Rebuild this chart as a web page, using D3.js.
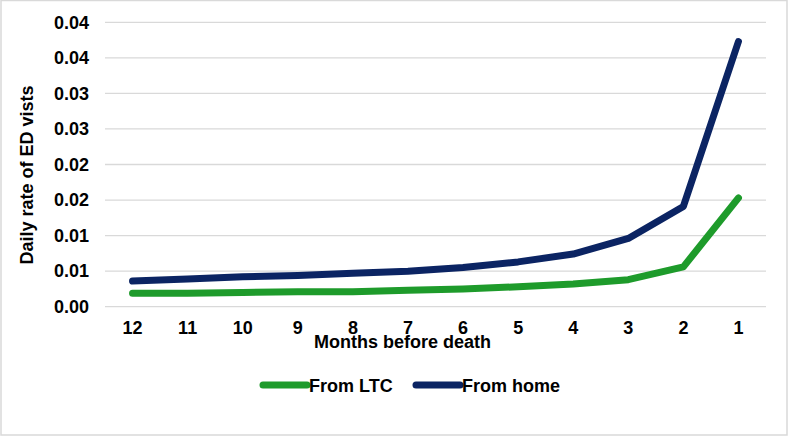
<!DOCTYPE html>
<html>
<head>
<meta charset="utf-8">
<script src="https://cdn.jsdelivr.net/npm/d3@7"></script>
<style>
  html, body { margin: 0; padding: 0; background: #fff; }
  svg { display: block; }
  text { font-family: "Liberation Sans", Arial, sans-serif; font-weight: bold; fill: #000; }
</style>
</head>
<body>
<svg id="chart" width="789" height="437"></svg>
<script>
const months = ["12", "11", "10", "9", "8", "7", "6", "5", "4", "3", "2", "1"];
const fromLTC = [0.0019, 0.0019, 0.0020, 0.0021, 0.0021, 0.0023, 0.0025, 0.0028, 0.0032, 0.0038, 0.0056, 0.0153];
const fromHome = [0.0036, 0.0039, 0.0042, 0.0044, 0.0047, 0.0050, 0.0055, 0.0063, 0.0074, 0.0096, 0.0141, 0.0373];
const yTickValues = [0, 0.005, 0.01, 0.015, 0.02, 0.025, 0.03, 0.035, 0.04];
const yTickLabels = ["0.00", "0.01", "0.01", "0.02", "0.02", "0.03", "0.03", "0.04", "0.04"];
const seriesNames = ["From LTC", "From home"];
const seriesColors = ["#1e9b2b", "#0b2463"];

(function () {
const svg = d3.select("#chart");
const W = 789, H = 437;

// outer border
svg.append("rect").attr("x", 1).attr("y", 0.5).attr("width", W - 3).attr("height", H - 2.5)
  .attr("fill", "#fff").attr("stroke", "#d9d9d9").attr("stroke-width", 1.5);

const pLeft = 105, pRight = 766, pTop = 22.3, pBottom = 306.7;

const x = d3.scaleBand().domain(months).range([pLeft, pRight]);
const y = d3.scaleLinear().domain([0, 0.04]).range([pBottom, pTop]);

// gridlines
svg.append("g").selectAll("line").data(yTickValues).join("line")
  .attr("x1", pLeft).attr("x2", pRight)
  .attr("y1", d => y(d)).attr("y2", d => y(d))
  .attr("stroke", "#d9d9d9").attr("stroke-width", 1.3);

// y axis labels
const yAxis = d3.axisLeft(y).tickValues(yTickValues)
  .tickFormat((d, i) => yTickLabels[i]).tickSize(0).tickPadding(0);
const gy = svg.append("g").attr("transform", `translate(${pLeft - 16},0)`).call(yAxis);
gy.select(".domain").remove();
gy.selectAll("text").attr("font-size", 18).attr("font-family", "Liberation Sans, Arial, sans-serif")
  .attr("font-weight", "bold").attr("fill", "#000");

// x axis labels
const xAxis = d3.axisBottom(x).tickSize(0).tickPadding(0);
const gx = svg.append("g").attr("transform", `translate(0,${pBottom + 15})`).call(xAxis);
gx.select(".domain").remove();
gx.selectAll("text").attr("font-size", 18).attr("font-family", "Liberation Sans, Arial, sans-serif")
  .attr("font-weight", "bold").attr("fill", "#000");

// lines
const line = d3.line()
  .x((d, i) => x(months[i]) + x.bandwidth() / 2)
  .y(d => y(d));

[fromLTC, fromHome].forEach((s, k) => {
  svg.append("path").datum(s)
    .attr("d", line)
    .attr("fill", "none")
    .attr("stroke", seriesColors[k])
    .attr("stroke-width", 7)
    .attr("stroke-linecap", "round")
    .attr("stroke-linejoin", "round");
});

// axis titles
svg.append("text").attr("x", (pLeft + pRight) / 2 - 33).attr("y", 348)
  .attr("text-anchor", "middle").attr("font-size", 18).text("Months before death");

svg.append("text")
  .attr("transform", `translate(33,175) rotate(-90)`)
  .attr("text-anchor", "middle").attr("font-size", 18).text("Daily rate of ED vists");

// legend
const legendItems = [
  { x1: 263, x2: 307, tx: 309 },
  { x1: 416, x2: 460, tx: 462 }
];
legendItems.forEach((it, k) => {
  svg.append("line").attr("x1", it.x1).attr("x2", it.x2).attr("y1", 385).attr("y2", 385)
    .attr("stroke", seriesColors[k]).attr("stroke-width", 7).attr("stroke-linecap", "round");
  svg.append("text").attr("x", it.tx).attr("y", 391.5).attr("font-size", 18).text(seriesNames[k]);
});
})();
</script>
</body>
</html>
